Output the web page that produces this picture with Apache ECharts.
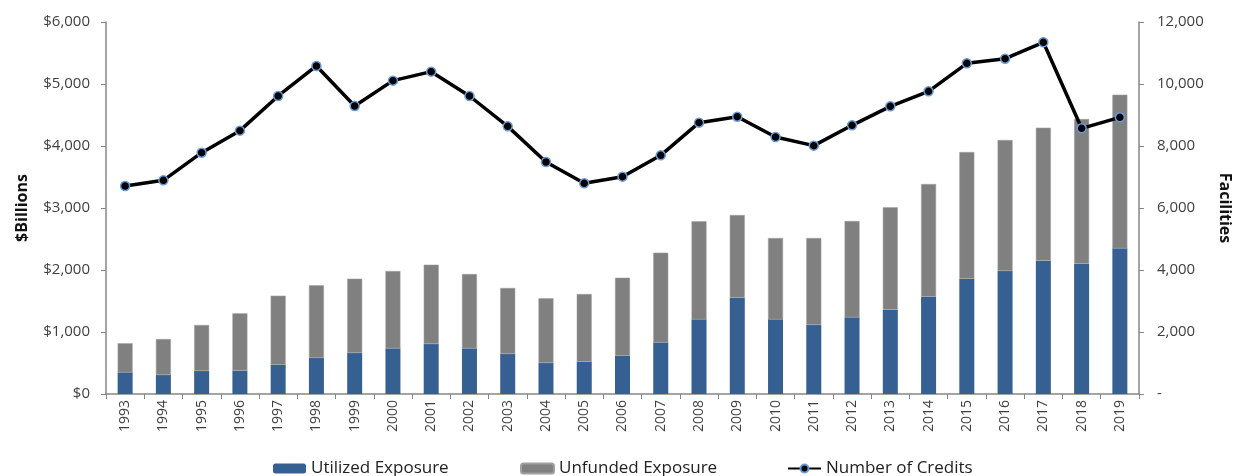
<!DOCTYPE html>
<html>
<head>
<meta charset="utf-8">
<script src="https://cdn.jsdelivr.net/npm/echarts@6/dist/echarts.min.js"></script>
<style>
  html, body { margin: 0; padding: 0; background: #fff; }
  #chart { width: 1241px; height: 476px; }
</style>
</head>
<body>
<div id="chart"></div>
<script>
// years on the category axis
const years = ['1993', '1994', '1995', '1996', '1997', '1998', '1999', '2000', '2001', '2002',
  '2003', '2004', '2005', '2006', '2007', '2008', '2009', '2010', '2011', '2012',
  '2013', '2014', '2015', '2016', '2017', '2018', '2019'];

// $ billions
const utilized = [350, 306, 371, 376, 473, 581, 661, 737, 806, 737,
  645, 500, 521, 618, 833, 1204, 1554, 1204, 1113, 1237,
  1360, 1570, 1860, 1984, 2151, 2102, 2349];
const totalExposure = [818, 887, 1113, 1301, 1586, 1753, 1860, 1984, 2086, 1935,
  1710, 1543, 1613, 1876, 2280, 2785, 2887, 2516, 2516, 2790,
  3011, 3387, 3903, 4097, 4296, 4435, 4828];
const unfunded = totalExposure.map((t, i) => t - utilized[i]);

// number of credits (facilities)
const credits = [6710, 6892, 7785, 8495, 9613, 10581, 9290, 10108, 10398, 9613,
  8634, 7484, 6796, 7011, 7699, 8753, 8946, 8290, 8011, 8667,
  9280, 9764, 10667, 10817, 11344, 8570, 8925];

const textColor = '#404040';
const axisColor = '#868686';
const font = 'Open Sans';

const chart = echarts.init(document.getElementById('chart'));

const legendText = { fontFamily: font, fontSize: 17, color: '#222' };
const legendBase = { top: 460, padding: 0, itemWidth: 33, itemHeight: 10, textStyle: legendText };

chart.setOption({
  animation: false,
  grid: { left: 106, right: 96, top: 22, bottom: 82 },
  legend: [
    Object.assign({ data: ['Utilized Exposure'], left: 273, itemGap: 5 }, legendBase),
    Object.assign({ data: ['Unfunded Exposure'], left: 520, itemGap: 5 }, legendBase),
    Object.assign({ data: ['Number of Credits'], left: 787, itemGap: 2 }, legendBase)
  ],
  xAxis: {
    type: 'category',
    data: years,
    axisLine: { lineStyle: { color: axisColor, width: 1.5 } },
    axisTick: { show: true, length: 5, lineStyle: { color: axisColor } },
    axisLabel: { rotate: 90, margin: 6, color: textColor, fontFamily: font, fontSize: 14 }
  },
  yAxis: [
    {
      type: 'value',
      min: 0, max: 6000, interval: 1000,
      name: '$Billions',
      nameLocation: 'middle',
      nameRotate: 90,
      nameGap: 76,
      nameTextStyle: { fontFamily: font, fontSize: 16, fontWeight: 'bold', color: '#111' },
      axisLine: { show: true, lineStyle: { color: axisColor, width: 1.5 } },
      axisTick: { show: true, length: 5, lineStyle: { color: axisColor } },
      splitLine: { show: false },
      axisLabel: {
        color: textColor, fontFamily: font, fontSize: 15, margin: 16,
        formatter: v => '$' + v.toLocaleString('en-US')
      }
    },
    {
      type: 'value',
      min: 0, max: 12000, interval: 2000,
      name: 'Facilities',
      nameLocation: 'middle',
      nameRotate: -90,
      nameGap: 78,
      nameTextStyle: { fontFamily: font, fontSize: 16, fontWeight: 'bold', color: '#111' },
      axisLine: { show: true, lineStyle: { color: axisColor, width: 1.5 } },
      axisTick: { show: true, length: 5, lineStyle: { color: axisColor } },
      splitLine: { show: false },
      axisLabel: {
        color: textColor, fontFamily: font, fontSize: 15, margin: 18,
        formatter: v => v === 0 ? '-' : v.toLocaleString('en-US')
      }
    }
  ],
  series: [
    {
      name: 'Utilized Exposure',
      type: 'bar',
      stack: 'exposure',
      barWidth: 15,
      itemStyle: { color: '#376092' },
      data: utilized
    },
    {
      name: 'Unfunded Exposure',
      type: 'bar',
      stack: 'exposure',
      barWidth: 15,
      itemStyle: { color: '#808080', borderColor: '#a0a0a0', borderWidth: 0.5 },
      data: unfunded
    },
    {
      name: 'Number of Credits',
      type: 'line',
      yAxisIndex: 1,
      symbol: 'circle',
      symbolSize: 9,
      lineStyle: { color: '#000', width: 3.5 },
      itemStyle: { color: '#000', borderColor: '#6a9bd6', borderWidth: 1.5 },
      data: credits
    }
  ]
});
</script>
</body>
</html>
